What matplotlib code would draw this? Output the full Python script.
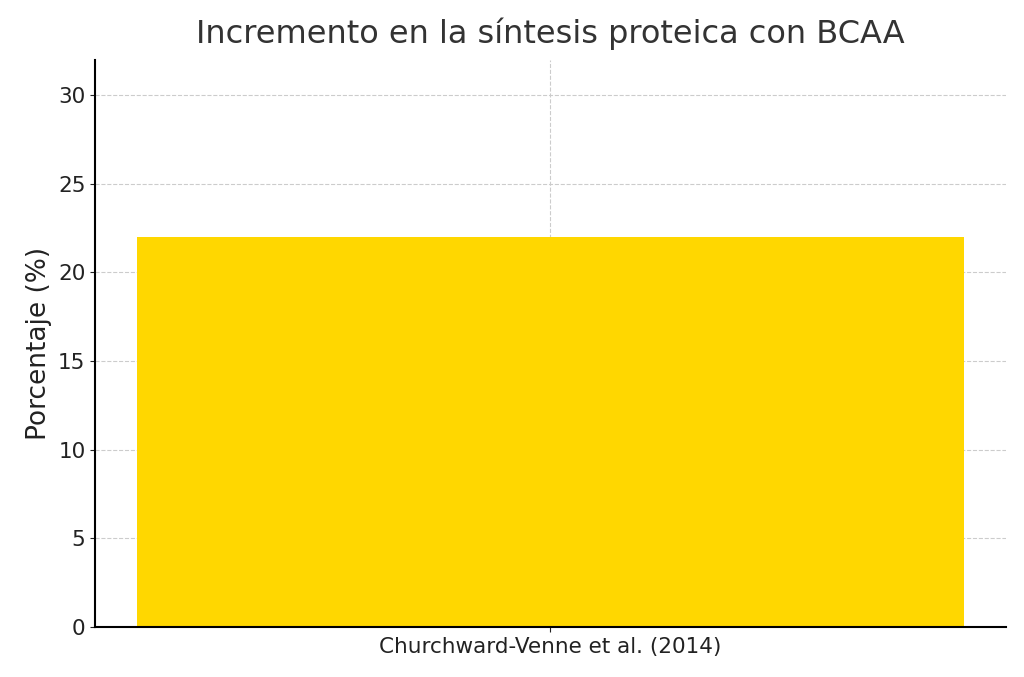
import matplotlib
matplotlib.use("Agg")
import matplotlib.pyplot as plt

estudios = ["Churchward-Venne et al. (2014)"]
incremento = [22]

fig, ax = plt.subplots(figsize=(10.24, 6.77), dpi=100)
ax.bar(estudios, incremento, color="#FFD700", width=0.8, zorder=2)
ax.set_ylim(0, 32)
ax.set_yticks([0, 5, 10, 15, 20, 25, 30])
ax.set_title("Incremento en la síntesis proteica con BCAA", fontsize=23, color="#333333", pad=12)
ax.set_ylabel("Porcentaje (%)", fontsize=19, color="#222222")
ax.tick_params(axis="both", labelsize=15.5, colors="#222222")
ax.grid(True, linestyle="--", color="#cccccc", linewidth=0.8, zorder=0)
for s in ["top", "right"]:
    ax.spines[s].set_visible(False)
for s in ["left", "bottom"]:
    ax.spines[s].set_linewidth(1.5)
fig.subplots_adjust(left=0.093, right=0.982, top=0.912, bottom=0.074)
fig.savefig("out.png", dpi=100)
